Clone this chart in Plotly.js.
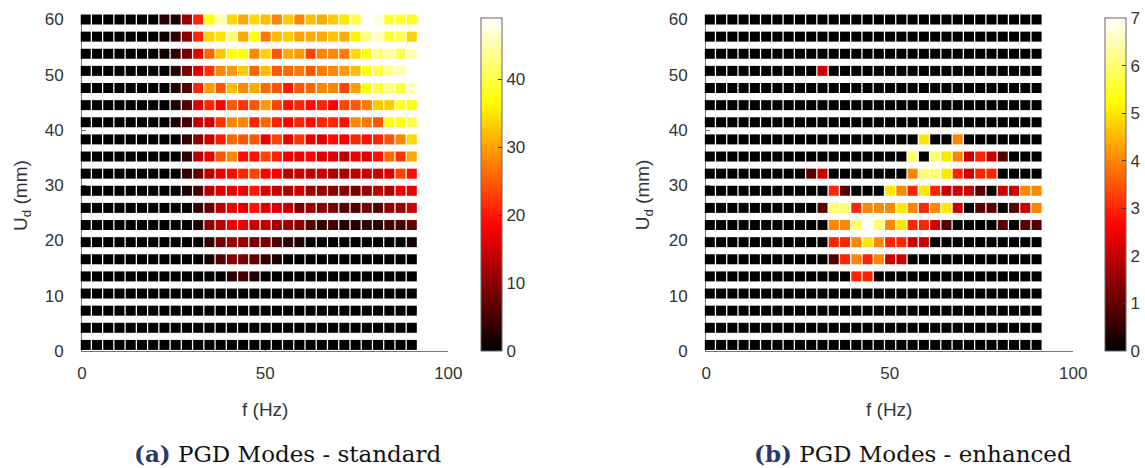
<!DOCTYPE html>
<html>
<head>
<meta charset="utf-8">
<script src="https://cdn.plot.ly/plotly-3.0.1.min.js"></script>
<style>html,body{margin:0;padding:0;background:#fff}#chart{width:1145px;height:468px}</style>
</head>
<body>
<div id="chart"></div>
<script>
// Frequencies (Hz), 30 columns
const freq = [1.00, 4.07, 7.14, 10.21, 13.28, 16.35, 19.42, 22.49, 25.56, 28.63,
              31.70, 34.77, 37.84, 40.91, 43.98, 47.05, 50.12, 53.19, 56.26, 59.33,
              62.40, 65.47, 68.54, 71.61, 74.68, 77.75, 80.82, 83.89, 86.96, 90.03];
// Displacement U_d (mm), 20 rows, top to bottom
const disp = [60.0, 56.9, 53.8, 50.7, 47.6, 44.5, 41.4, 38.3, 35.2, 32.1,
              29.0, 25.9, 22.8, 19.7, 16.6, 13.5, 10.4, 7.3, 4.2, 1.1];

// (a) PGD Modes - standard: one row per displacement (top to bottom), one value per frequency
const standardModes = [
  [0,0,0,0,0,0,0,3,2.5,11,21,37,45,34,30.6,34,32,28,33,28,32,30.6,33,35,40,49,47,39,39,38],
  [0,0,0,0,0,0,0,1,3.5,10,21,33.4,35,42.5,30.6,37,27,32,33,30,30.6,30.6,32.5,30.6,36,43.4,46,39,40.5,33.4],
  [0,0,0,0,0,0,0,1,3.5,8.6,17,25.7,32.5,37,37,28,33.4,24.5,30.6,29.4,23.3,28,28,27,34,37,42.5,44,40.5,45],
  [0,0,0,0,0,0,0,0,2.5,8.6,16,22,28,29.4,33,25.7,32,24.5,25.7,27,24.5,27,28,29.4,32,37,40,43.4,45,49],
  [0,0,0,0,0,0,0,0,2.5,6,21,29.4,24.5,32,28,30.6,25.7,24.5,20,24.5,25.7,28,28,23.3,29.4,37,40,42.5,39,46],
  [0,0,0,0,0,0,0,0,2.5,6,16,21,18.4,24.5,22,24.5,29.4,23.3,19.5,21,19,21,18.4,23.3,24.5,27,33,33,39,37],
  [0,0,0,0,0,0,0,0,1.7,5,13.5,14.7,22,28,28,21,25.7,21,18.4,21,19,21,21,19.5,28,27,24.5,37,37,40],
  [0,0,0,0,0,0,0,0,0,3.7,10,14.7,20,25.7,24.5,24.5,17,23.3,17,22,17,16,19,18.4,21,19.5,21,24.5,28,34],
  [0,0,0,0,0,0,0,0,0,3,13.5,17,24.5,28,19,19.5,23.3,21,17,17,18.4,16,16,13.5,17,16,19.5,25.7,22,30.6],
  [0,0,0,0,0,0,0,0,0,3.7,7.3,13.5,17,19,21,23.3,18.4,18.4,13.5,14.7,13.5,14.7,12.3,12.3,13.5,14.7,14.7,16,23.3,19],
  [0,0,0,0,0,0,0,0,0,1.7,5,13.5,16,17,17,20,16,14.7,12.3,14.7,11,11,10,10,8.6,11,13.5,12.3,17,17],
  [0,0,0,0,0,0,0,0,0,0,3.7,7.3,13.5,17,16,19.5,16,16,13.5,8.6,11,10,8.6,6,6,8.6,6,10,11,14.7],
  [0,0,0,0,0,0,0,0,0,0,2,10,13.5,17,17,14.7,13.5,12.3,11,10,6,3.7,5,2.5,2.5,3.7,2.5,5,5,7.3],
  [0,0,0,0,0,0,0,0,0,0,0,3.7,8.6,11,11,8.6,8.6,6,3.7,2.5,0,0,0,0,0,0,0,0,0,1.7],
  [0,0,0,0,0,0,0,0,0,0,0,1.7,6,10,8.6,7.3,3.7,2.5,0,0,0,0,0,0,0,0,0,0,0,0],
  [0,0,0,0,0,0,0,0,0,0,0,0,0,3,5,1.7,0,0,0,0,0,0,0,0,0,0,0,0,0,0],
  [0,0,0,0,0,0,0,0,0,0,0,0,0,0,0,0,0,0,0,0,0,0,0,0,0,0,0,0,0,0],
  [0,0,0,0,0,0,0,0,0,0,0,0,0,0,0,0,0,0,0,0,0,0,0,0,0,0,0,0,0,0],
  [0,0,0,0,0,0,0,0,0,0,0,0,0,0,0,0,0,0,0,0,0,0,0,0,0,0,0,0,0,0],
  [0,0,0,0,0,0,0,0,0,0,0,0,0,0,0,0,0,0,0,0,0,0,0,0,0,0,0,0,0,0]
];

// (b) PGD Modes - enhanced
const enhancedModes = [
  [0,0,0,0,0,0,0,0,0,0,0,0,0,0,0,0,0,0,0,0,0,0,0,0,0,0,0,0,0,0],
  [0,0,0,0,0,0,0,0,0,0,0,0,0,0,0,0,0,0,0,0,0,0,0,0,0,0,0,0,0,0],
  [0,0,0,0,0,0,0,0,0,0,0,0,0,0,0,0,0,0,0,0,0,0,0,0,0,0,0,0,0,0],
  [0,0,0,0,0,0,0,0,0,0,2.1,0,0,0,0,0,0,0,0,0,0,0,0,0,0,0,0,0,0,0],
  [0,0,0,0,0,0,0,0,0,0,0,0,0,0,0,0,0,0,0,0,0,0,0,0,0,0,0,0,0,0],
  [0,0,0,0,0,0,0,0,0,0,0,0,0,0,0,0,0,0,0,0,0,0,0,0,0,0,0,0,0,0],
  [0,0,0,0,0,0,0,0,0,0,0,0,0,0,0,0,0,0,0,0,0,0,0,0,0,0,0,0,0,0],
  [0,0,0,0,0,0,0,0,0,0,0,0,0,0,0,0,0,0,0,5,0,0,4,0,0,0,0,0,0,0],
  [0,0,0,0,0,0,0,0,0,0,0,0,0,0,0,0,0,0,6,0,6,5,4,2.1,3,2.1,0.9,0,0,0],
  [0,0,0,0,0,0,0,0,0,0.9,2.1,0,0,0,0,0,0,0,4,6,6,5,3,2.1,3,3,0,0,0,0],
  [0,0,0,0,0,0,0,0,0,0,0,3,0.9,0,0,0,5,4,3,5,3,2.1,2.1,2.1,0.9,0,2.1,2.1,4,4],
  [0,0,0,0,0,0,0,0,0,0,0.9,6,6,3,4,4,4,5,4,3,4,5,2.1,0,0.9,0.9,0,0.9,2.1,4],
  [0,0,0,0,0,0,0,0,0,0,0,4,4,6,7,6,4,5,3,3,2.1,0.9,0,0,0,0,0.9,0,0.9,0.9],
  [0,0,0,0,0,0,0,0,0,0,0,3,3,4,5,4,3,3,2.1,2.1,0,0,0,0,0,0,0,0,0,0],
  [0,0,0,0,0,0,0,0,0,0,0,0.9,3,4,3,4,2.1,2.1,0,0,0,0,0,0,0,0,0,0,0,0],
  [0,0,0,0,0,0,0,0,0,0,0,0,0,3,3,0,0,0,0,0,0,0,0,0,0,0,0,0,0,0],
  [0,0,0,0,0,0,0,0,0,0,0,0,0,0,0,0,0,0,0,0,0,0,0,0,0,0,0,0,0,0],
  [0,0,0,0,0,0,0,0,0,0,0,0,0,0,0,0,0,0,0,0,0,0,0,0,0,0,0,0,0,0],
  [0,0,0,0,0,0,0,0,0,0,0,0,0,0,0,0,0,0,0,0,0,0,0,0,0,0,0,0,0,0],
  [0,0,0,0,0,0,0,0,0,0,0,0,0,0,0,0,0,0,0,0,0,0,0,0,0,0,0,0,0,0]
];

const stdTicks = [0, 10, 20, 30, 40];
const enhTicks = [0, 1, 2, 3, 4, 5, 6, 7];
const stdMax = 49;
const enhMax = 7;
const captionA = 'PGD Modes - standard';
const captionB = 'PGD Modes - enhanced';

const hot = [[0, 'rgb(0,0,0)'], [0.375, 'rgb(255,0,0)'], [0.75, 'rgb(255,255,0)'], [1, 'rgb(255,255,255)']];

function flatten(matrix) {
  const xs = [], ys = [], cs = [];
  matrix.forEach((row, i) => row.forEach((v, j) => { xs.push(freq[j]); ys.push(disp[i]); cs.push(v); }));
  return {xs, ys, cs};
}

const W = 1145, H = 468;
const px = v => v / W, py = v => (H - v) / H;
const tickFont = {family: 'Liberation Sans, Arial, sans-serif', size: 17, color: '#333'};
const axisCol = '#777';

function cbar(x, ticks) {
  return {
    x: px(x), xanchor: 'left', xpad: 0, ypad: 0,
    y: py(351), yanchor: 'bottom', len: (351 - 18) / H, lenmode: 'fraction',
    thickness: 21, thicknessmode: 'pixels',
    outlinewidth: 1, outlinecolor: '#666',
    tickvals: ticks, ticks: 'inside', ticklen: 4, tickcolor: '#333',
    tickfont: tickFont
  };
}

const a = flatten(standardModes);
const b = flatten(enhancedModes);

const traces = [
  {type: 'scatter', mode: 'markers', x: a.xs, y: a.ys, xaxis: 'x', yaxis: 'y', cliponaxis: false, hoverinfo: 'skip',
   marker: {symbol: 'square', size: 10, color: a.cs, colorscale: hot, cmin: 0, cmax: stdMax, line: {width: 0},
            showscale: true, colorbar: cbar(482, stdTicks)}},
  {type: 'scatter', mode: 'markers', x: b.xs, y: b.ys, xaxis: 'x2', yaxis: 'y2', cliponaxis: false, hoverinfo: 'skip',
   marker: {symbol: 'square', size: 10, color: b.cs, colorscale: hot, cmin: 0, cmax: enhMax, line: {width: 0},
            showscale: true, colorbar: cbar(1108, enhTicks)}}
];

function xax(l, r, anchor) {
  return {domain: [px(l), px(r)], range: [0, 100], tickvals: [0, 50, 100], ticks: 'inside', ticklen: 4,
          tickcolor: axisCol, showline: true, linecolor: axisCol, linewidth: 1, showgrid: false, zeroline: false,
          tickfont: tickFont, anchor: anchor, layer: 'below traces', ticklabelstandoff: 7, fixedrange: true};
}
function yax(anchor) {
  return {domain: [py(351), py(19.5)], range: [0, 60], tickvals: [0, 10, 20, 30, 40, 50, 60], ticks: 'inside', ticklen: 4,
          tickcolor: axisCol, showline: true, linecolor: axisCol, linewidth: 1, showgrid: false, zeroline: false,
          tickfont: tickFont, anchor: anchor, layer: 'below traces', ticklabelstandoff: 14, fixedrange: true};
}

const titleFont = {family: 'Liberation Sans, Arial, sans-serif', size: 19, color: '#333'};
const capFont = {family: 'DejaVu Serif, serif', size: 23, color: '#111'};

const layout = {
  width: W, height: H, margin: {l: 0, r: 0, t: 0, b: 0},
  paper_bgcolor: '#fff', plot_bgcolor: '#fff', showlegend: false,
  xaxis: xax(82.3, 449.5, 'y'), yaxis: yax('x'),
  xaxis2: xax(708, 1076, 'y2'), yaxis2: yax('x2'),
  annotations: [
    {xref: 'paper', yref: 'paper', x: px(266), y: py(409), text: 'f (Hz)', showarrow: false, font: titleFont, xanchor: 'center', yanchor: 'middle'},
    {xref: 'paper', yref: 'paper', x: px(891), y: py(409), text: 'f (Hz)', showarrow: false, font: titleFont, xanchor: 'center', yanchor: 'middle'},
    {xref: 'paper', yref: 'paper', x: px(22), y: py(195), text: 'U<sub>d</sub> (mm)', textangle: -90, showarrow: false, font: titleFont, xanchor: 'center', yanchor: 'middle'},
    {xref: 'paper', yref: 'paper', x: px(646), y: py(195), text: 'U<sub>d</sub> (mm)', textangle: -90, showarrow: false, font: titleFont, xanchor: 'center', yanchor: 'middle'},
    {xref: 'paper', yref: 'paper', x: px(289), y: py(453), text: '<span style="color:#27386a"><b>(a)</b></span> ' + captionA, showarrow: false, font: capFont, xanchor: 'center', yanchor: 'middle'},
    {xref: 'paper', yref: 'paper', x: px(915), y: py(453), text: '<span style="color:#27386a"><b>(b)</b></span> ' + captionB, showarrow: false, font: capFont, xanchor: 'center', yanchor: 'middle'}
  ]
};

Plotly.newPlot('chart', traces, layout, {staticPlot: true, displayModeBar: false});
</script>
</body>
</html>
